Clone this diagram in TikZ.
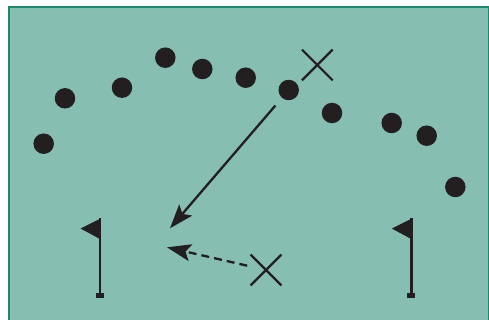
\documentclass[tikz,border=0pt]{standalone}
\usepackage{xcolor}
\usepackage{tikz}
\usetikzlibrary{arrows.meta,shapes.misc}
\definecolor{FieldFill}{HTML}{86BFB2}
\definecolor{FieldLine}{HTML}{1B8A6C}
\definecolor{InkBlack}{HTML}{231F20}

\begin{document}
\begin{tikzpicture}[x=1pt,y=-1pt,
  dot/.style={circle,fill=InkBlack,inner sep=0pt,minimum size=20.5pt},
  crossmark/.style={cross out,draw=InkBlack,line width=2.2pt,inner sep=0pt,minimum size=28.6pt},
  passarrow/.style={draw=InkBlack,line width=2.3pt,-{Stealth[length=24pt,width=17pt,inset=5pt]}}]
\path[use as bounding box] (0,0) rectangle (489,320);
\begin{scope}
\clip (0,0) rectangle (489,320);
\draw[FieldLine,fill=FieldFill,line width=2pt] (8.5,7.5) rectangle (488.5,330);
\end{scope}
% players on the arc
\foreach \px/\py [count=\i] in {43.7/143.7,65/98.3,122/87.7,165.3/57.7,202.3/69,245.7/77.7,288.7/90,332/113,391.7/123,426.7/135.7,455.3/187}
  \node[dot] (d\i) at (\px,\py) {};
\node[crossmark] (xtop) at (317.3,65) {};
\node[crossmark] (xlow) at (266,270) {};
\coordinate (aim) at (170,228.3);
\coordinate (lay) at (167,247.3);
\draw[passarrow,shorten <=10pt] (d7) -- (aim);
\draw[passarrow,dash pattern=on 8pt off 5pt,shorten <=3.5pt] (xlow) -- (lay);
% flags
\foreach \fx in {100,411.3}{
  \draw[InkBlack,line width=2.7pt] (\fx,218.3) -- (\fx,294);
  \fill[InkBlack] (\fx-4,292.5) rectangle (\fx+4,297.5);
  \fill[InkBlack] (\fx-1,219.3) -- (\fx-19.5,228.5) -- (\fx-1,238.5) -- cycle;
}
\end{tikzpicture}
\end{document}
